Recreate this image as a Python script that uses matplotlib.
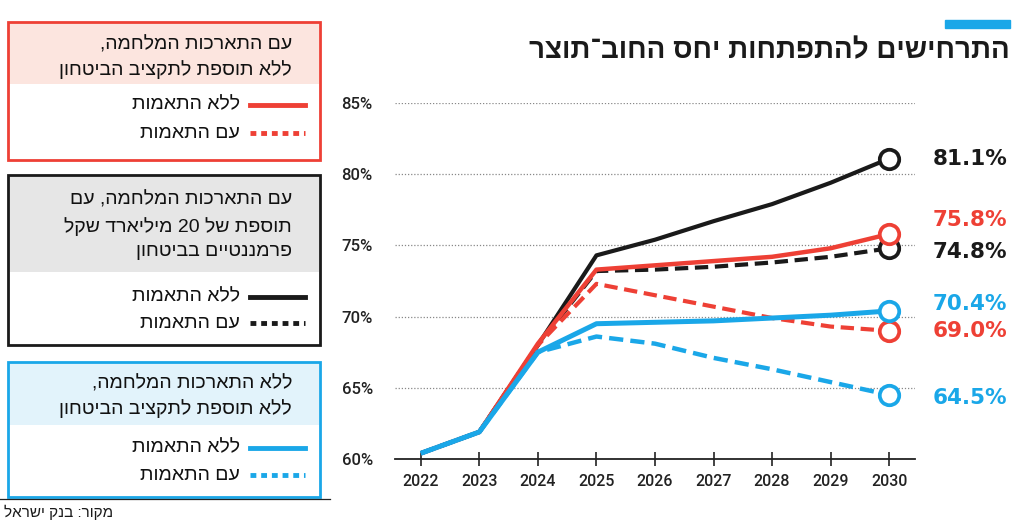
import re
import matplotlib
matplotlib.use("Agg")
import matplotlib.pyplot as plt
from matplotlib.patches import Rectangle
from matplotlib.lines import Line2D

# --- data (debt/GDP ratio, %) ---
years = [2022, 2023, 2024, 2025, 2026, 2027, 2028, 2029, 2030]
war_20bn_no_adj = [60.4, 61.9, 68.0, 74.3, 75.4, 76.7, 77.9, 79.4, 81.1]
war_20bn_adj = [60.4, 61.9, 68.0, 73.2, 73.3, 73.5, 73.8, 74.2, 74.8]
war_no_adj = [60.4, 61.9, 68.1, 73.3, 73.6, 73.9, 74.2, 74.8, 75.8]
war_adj = [60.4, 61.9, 68.0, 72.3, 71.5, 70.7, 69.9, 69.3, 69.0]
nowar_no_adj = [60.4, 61.9, 67.5, 69.5, 69.6, 69.7, 69.9, 70.1, 70.4]
nowar_adj = [60.4, 61.9, 67.5, 68.6, 68.1, 67.1, 66.3, 65.4, 64.5]

yticks = [60, 65, 70, 75, 80, 85]

title = "התרחישים להתפתחות יחס החוב־תוצר"
source = "מקור: בנק ישראל"
box_titles = [
    ["עם התארכות המלחמה,", "ללא תוספת לתקציב הביטחון"],
    ["עם התארכות המלחמה, עם", "תוספת של 20 מיליארד שקל", "פרמננטיים בביטחון"],
    ["ללא התארכות המלחמה,", "ללא תוספת לתקציב הביטחון"],
]
lbl_no_adj = "ללא התאמות"
lbl_adj = "עם התאמות"

RED = "#ee4035"
BLACK = "#1a1a1a"
BLUE = "#1aa7e8"
HEB = ["Liberation Sans", "DejaVu Sans"]


def heb(s):
    """matplotlib has no bidi: flip the string, keep digit runs in order"""
    r = s[::-1]
    return re.sub(r"\d+", lambda m: m.group(0)[::-1], r)


def px(x, y):
    return x / 1024, 1 - y / 527


fig = plt.figure(figsize=(10.24, 5.27), dpi=100)
ax = fig.add_axes([395 / 1024, 1 - 459 / 527, 520 / 1024, 356 / 527])

# values, colour, linestyle, width, vertical nudge of end label (points)
series = [
    (war_20bn_no_adj, BLACK, "-", 3.0, 0),
    (war_20bn_adj, BLACK, (0, (3.2, 1.6)), 3.0, -3),
    (war_adj, RED, (0, (3.2, 1.6)), 3.0, 0),
    (war_no_adj, RED, "-", 3.2, 10),
    (nowar_adj, BLUE, (0, (3.2, 1.6)), 3.2, -2),
    (nowar_no_adj, BLUE, "-", 3.6, 5),
]
for vals, col, ls, lw, dy in series:
    ax.plot(years, vals, color=col, ls=ls, lw=lw, solid_capstyle="butt", zorder=3)
    ax.plot(years[-1], vals[-1], "o", ms=14, mfc="white", mec=col, mew=2.7, zorder=5)
    ax.annotate(f"{vals[-1]:.1f}%", (years[-1], vals[-1]), xytext=(85, dy),
                textcoords="offset points", ha="right", va="center",
                fontsize=15.5, fontweight="bold", family="DejaVu Sans", color=col,
                annotation_clip=False)

ax.set_xlim(2021.56, 2030.44)
ax.set_ylim(60, 85)
ax.set_yticks(yticks)
ax.set_yticklabels([f"{v}%" for v in yticks])
ax.set_xticks(years)
ax.grid(axis="y", color="#888888", ls=(0, (1, 1.5)), lw=0.9)
for s in ["top", "right", "left"]:
    ax.spines[s].set_visible(False)
ax.spines["bottom"].set_color("#222222")
ax.spines["bottom"].set_linewidth(1.3)
ax.tick_params(axis="y", length=0, pad=16, labelsize=12, labelcolor="#222222")
ax.tick_params(axis="x", direction="inout", length=10, width=1.2,
               color="#222222", pad=6, labelsize=11.5, labelcolor="#222222")
for t in ax.get_xticklabels() + ax.get_yticklabels():
    t.set_family("Roboto")
    t.set_fontweight("medium")

# title + accent bar
fig.add_artist(Rectangle(px(945, 28), 65 / 1024, 8 / 527, color=BLUE, transform=fig.transFigure))
fig.text(*px(1010, 51), heb(title), ha="right", va="center", fontsize=20,
         fontweight="bold", family=HEB, color="#1a1a1a")

# legend boxes
boxes = [
    (22, 160, 84, RED, "#fce5df", [45, 70], 105, 133),
    (175, 345, 272, BLACK, "#e6e6e6", [200, 227, 252], 297, 323),
    (362, 497, 425, BLUE, "#e2f3fb", [384, 409], 448, 475),
]
for (top, bot, hdr, col, fill, ty, y1, y2), lines in zip(boxes, box_titles):
    x0, y0 = px(8, bot)
    fig.add_artist(Rectangle(px(9, hdr), 310 / 1024, (hdr - top) / 527,
                             color=fill, lw=0, transform=fig.transFigure))
    fig.add_artist(Rectangle((x0, y0), 312 / 1024, (bot - top) / 527, fill=False,
                             ec=col, lw=2, transform=fig.transFigure))
    for yy, line in zip(ty, lines):
        fig.text(*px(292, yy), heb(line), ha="right", va="center", fontsize=14,
                 family=HEB, color="#111111")
    for yy, txt, ls in [(y1, lbl_no_adj, "-"), (y2, lbl_adj, (0, (1.2, 1.0)))]:
        fig.add_artist(Line2D([250 / 1024, 305 / 1024], [1 - yy / 527] * 2, color=col,
                              lw=3.5, ls=ls, transform=fig.transFigure))
        fig.text(*px(240, yy), heb(txt), ha="right", va="center", fontsize=14,
                 family=HEB, color="#111111")

fig.add_artist(Line2D([0, 330 / 1024], [1 - 499 / 527] * 2, color="#222222", lw=0.9,
                      transform=fig.transFigure))
fig.text(*px(113, 512), heb(source), ha="right", va="center", fontsize=11,
         family=HEB, color="#1a1a1a")

fig.savefig("out.png", dpi=100)
